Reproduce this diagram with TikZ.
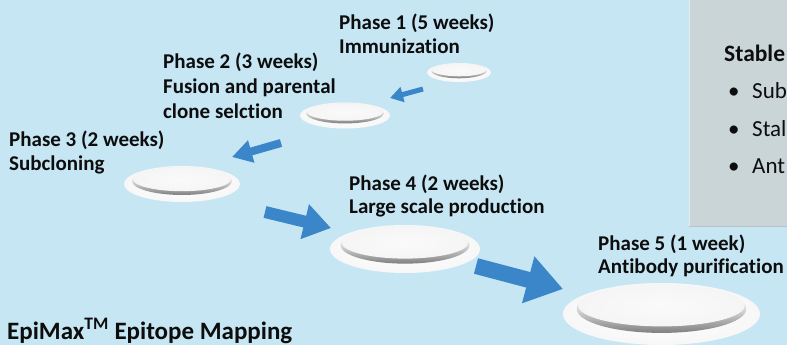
\documentclass[tikz,border=0pt]{standalone}
\usepackage{fontspec}
\setmainfont{Carlito}[Ligatures=NoCommon]
\usetikzlibrary{arrows.meta}
\definecolor{bgblue}{HTML}{C6E6F4}
\definecolor{panelgray}{HTML}{C9D5D7}
\definecolor{arrowblue}{HTML}{3A86C8}
\definecolor{txt}{HTML}{0D0D0D}
\pgfdeclareradialshading{plateglow}{\pgfpoint{0bp}{0bp}}{color(0bp)=(white); color(40bp)=(white!95!black); color(46bp)=(white!65!bgblue); color(50bp)=(bgblue!85!white); color(52bp)=(bgblue)}
\pgfdeclareradialshading{plateface}{\pgfpoint{0bp}{0bp}}{color(0bp)=(white!98!black); color(40bp)=(white!95!black); color(50bp)=(white!90!black)}
\tikzset{
  pics/plate/.style 2 args={code={
    \shade[shading=plateglow] (0,0) ellipse[x radius=#1pt, y radius=#2pt];
    \shade[top color=white!92!black, bottom color=white!50!black, middle color=white!85!black] (0,{-0.16*#2}) ellipse[x radius={0.86*#1pt}, y radius={0.77*#2pt}];
    \shade[shading=plateface] (0,{-0.27*#2}) ellipse[x radius={0.845*#1pt}, y radius={0.67*#2pt}];
  }},
  phase/.style={anchor=base west, inner sep=0pt, text=txt, font=\fontsize{21}{24}\selectfont\bfseries},
  titletext/.style={anchor=base west, inner sep=0pt, text=txt, font=\fontsize{25}{30}\selectfont\bfseries},
  paneltitle/.style={anchor=base west, inner sep=0pt, text=txt, font=\fontsize{23.5}{28}\selectfont\bfseries},
  panelitem/.style={anchor=base west, inner sep=0pt, text=txt, font=\fontsize{23}{28}\selectfont},
  blockarrow/.style={draw=arrowblue, line cap=butt},
}
\begin{document}
\begin{tikzpicture}[x=1pt,y=-1pt]
\clip (0,0) rectangle (787,345);
\fill[bgblue] (0,0) rectangle (787,345);

% right panel
\fill[panelgray] (689,-2) rectangle (790,227);
\draw[white!55!panelgray, line width=0.8pt] (689.4,-2) -- (689.4,227);
\draw[black!8!panelgray, line width=0.8pt] (689,226.6) -- (790,226.6);
\node[paneltitle] (stable) at (724,62) {Stable};
\node[panelitem] (b1) at (728,98) {\textbullet};
\node[panelitem] (i1) at (752,98) {Sub};
\node[panelitem] (b2) at (728,136) {\textbullet};
\node[panelitem] (i2) at (752,136) {Stal};
\node[panelitem] (b3) at (728,173) {\textbullet};
\node[panelitem] (i3) at (752,173) {Ant};

% plates
\pic (pl1) at (459,72.5) {plate={32}{9.5}};
\pic (pl2) at (345,115.5) {plate={45}{13}};
\pic (pl3) at (182,184) {plate={58}{18}};
\pic (pl4) at (405,249) {plate={75}{24}};
\pic (pl5) at (661.5,314) {plate={98.5}{31}};

% arrows
\coordinate (a1s) at (423,89);  \coordinate (a1e) at (390,98);
\coordinate (a2s) at (281,143); \coordinate (a2e) at (232,157);
\coordinate (a3s) at (265,212); \coordinate (a3e) at (331,228);
\coordinate (a4s) at (476,266); \coordinate (a4e) at (563,289);
\draw[blockarrow, line width=5pt, -{Triangle[length=13pt,width=15pt]}] (a1s) -- (a1e);
\draw[blockarrow, line width=8pt, -{Triangle[length=20pt,width=22pt]}] (a2s) -- (a2e);
\draw[blockarrow, line width=12pt, -{Triangle[length=27pt,width=34pt]}] (a3s) -- (a3e);
\draw[blockarrow, line width=16pt, -{Triangle[length=36pt,width=46pt]}] (a4s) -- (a4e);

% labels
\node[phase] (p1a) at (339,30) {Phase 1 (5 weeks)};
\node[phase] (p1b) at (339,54) {Immunization};
\node[phase] (p2a) at (163,68) {Phase 2 (3 weeks)};
\node[phase] (p2b) at (163,93) {Fusion and parental};
\node[phase] (p2c) at (163,118) {clone selction};
\node[phase] (p3a) at (9,146) {Phase 3 (2 weeks)};
\node[phase] (p3b) at (9,170) {Subcloning};
\node[phase] (p4a) at (349,190) {Phase 4 (2 weeks)};
\node[phase] (p4b) at (349,213) {Large scale production};
\node[phase] (p5a) at (598,250) {Phase 5 (1 week)};
\node[phase] (p5b) at (598,273) {Antibody purification};
\node[titletext] (title) at (7,339) {EpiMax\textsuperscript{TM} Epitope Mapping};
\end{tikzpicture}
\end{document}
